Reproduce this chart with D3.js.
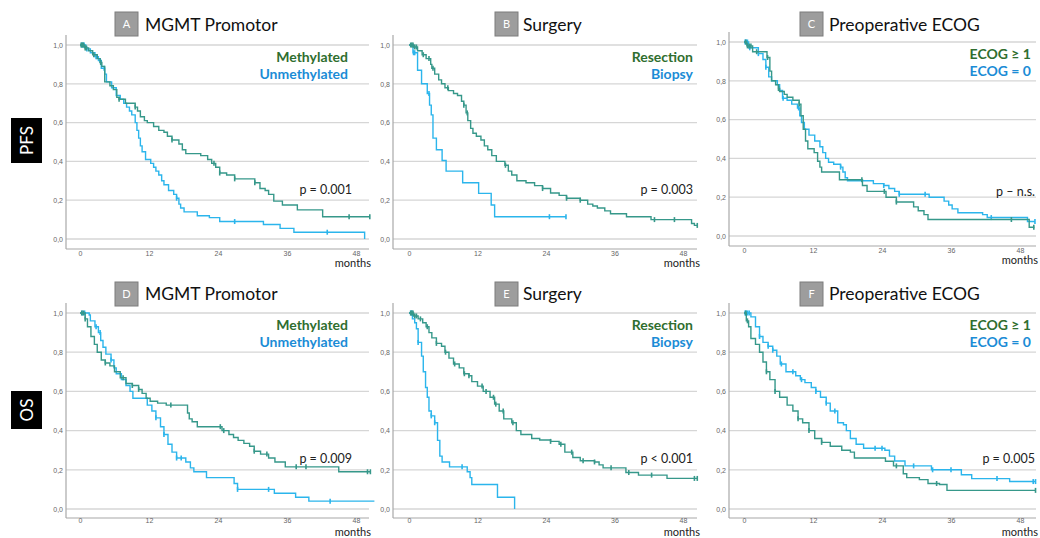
<!DOCTYPE html>
<html>
<head>
<meta charset="utf-8">
<script src="https://cdn.jsdelivr.net/npm/d3@7"></script>
<style>
  body { margin: 0; background: #fff; }
  svg { display: block; font-family: Lato, "Open Sans", sans-serif; }
  .tick text { fill: #666; font-size: 7px; }
</style>
</head>
<body>
<svg width="1040" height="538"></svg>
<script>
// axis ticks
const xTicks = [0, 12, 24, 36, 48];
const yTicks = [0, 0.2, 0.4, 0.6, 0.8, 1.0];

// panel texts
const panelLetters = ["A", "B", "C", "D", "E", "F"];
const panelTitles = ["MGMT Promotor", "Surgery", "Preoperative ECOG", "MGMT Promotor", "Surgery", "Preoperative ECOG"];
const legendGreen = ["Methylated", "Resection", "ECOG \u2265 1", "Methylated", "Resection", "ECOG \u2265 1"];
const legendBlue = ["Unmethylated", "Biopsy", "ECOG = 0", "Unmethylated", "Biopsy", "ECOG = 0"];
const pValues = ["p = 0.001", "p = 0.003", "p \u2013 n.s.", "p = 0.009", "p < 0.001", "p = 0.005"];
const rowLabels = ["PFS", "OS"];

// A: PFS by MGMT  [months, survival]
const pfsMethylated = [[0,1],[0.8,0.985],[1.5,0.97],[2.2,0.95],[3,0.93],[3.5,0.91],[3.8,0.89],[4.3,0.81],[5.2,0.79],[5.8,0.77],[6.4,0.73],[6.8,0.72],[7.9,0.70],[9.6,0.68],[10,0.66],[10.5,0.63],[11.2,0.61],[11.7,0.60],[12.8,0.58],[13.7,0.56],[14.6,0.55],[15.2,0.53],[16,0.51],[17.2,0.49],[17.8,0.46],[18.4,0.44],[21,0.43],[22.2,0.41],[22.9,0.39],[23.6,0.37],[24.3,0.34],[25.5,0.33],[26.9,0.31],[30.4,0.29],[31.3,0.26],[32.2,0.25],[32.8,0.23],[33.7,0.195],[35.2,0.175],[37.8,0.15],[42.2,0.115],[50.4,0.115]];
const pfsMethylatedCens = [0.2,0.4,0.6,0.9,1.1,2.4,3.6,6.8,9.6,16,23.3,24.3,26.9,30.4,46.8,50.4];
const pfsUnmethylated = [[0,1],[1,0.98],[1.8,0.96],[2.6,0.94],[3.2,0.92],[3.7,0.88],[4.3,0.85],[4.6,0.81],[5.5,0.78],[6.3,0.74],[7,0.72],[7.6,0.70],[8.1,0.68],[8.6,0.66],[9,0.64],[9.6,0.60],[9.9,0.56],[10.2,0.52],[10.5,0.48],[10.8,0.45],[11.4,0.41],[12.3,0.39],[12.8,0.37],[13.2,0.35],[13.7,0.33],[14.2,0.30],[14.6,0.28],[15.4,0.25],[16.3,0.23],[16.8,0.21],[17.2,0.18],[17.5,0.16],[18.1,0.14],[20.4,0.12],[22.5,0.11],[24.3,0.09],[31.9,0.075],[34.8,0.055],[37.2,0.035],[49.5,0.035],[49.5,0]];
const pfsUnmethylatedCens = [0.3,0.5,0.7,1.2,2.8,3.5,4.2,16.8,26.9,43];

// B: PFS by surgery
const pfsResection = [[0,1],[0.8,0.99],[1.5,0.97],[2.3,0.95],[3,0.93],[3.8,0.90],[4,0.88],[4.5,0.85],[5.2,0.82],[5.7,0.80],[6.3,0.78],[6.9,0.765],[7.8,0.75],[8.5,0.74],[9.2,0.71],[9.6,0.69],[10,0.65],[10.3,0.61],[10.8,0.57],[11.2,0.545],[11.8,0.53],[12.6,0.51],[13.2,0.48],[13.8,0.46],[14.5,0.43],[15.3,0.40],[16.8,0.38],[17.4,0.35],[18,0.33],[18.9,0.30],[20.5,0.29],[22,0.275],[23.4,0.26],[24.8,0.237],[26.3,0.225],[27.6,0.21],[30,0.20],[31.3,0.18],[32.2,0.17],[33,0.16],[34.3,0.145],[35.3,0.13],[38.1,0.115],[42.4,0.10],[49.5,0.08],[50,0.07],[50.5,0.07]];
const pfsResectionCens = [0.3,0.5,0.7,1,1.3,2.5,3.5,4.2,6.8,9.6,10.2,16.9,23.4,27.6,30,43,46.5,50.5];
const pfsBiopsy = [[0,1],[0.7,0.96],[1.5,0.87],[2.2,0.80],[3.2,0.75],[3.6,0.69],[3.9,0.64],[4.2,0.52],[4.8,0.46],[5.8,0.405],[6.5,0.35],[9.4,0.29],[12.2,0.235],[14.4,0.175],[15,0.115],[27.5,0.115]];
const pfsBiopsyCens = [0.8,1.0,3.5,24.6,27.5];

// C: PFS by ECOG
const pfsEcog1 = [[0,1],[0.5,0.98],[1.5,0.95],[4,0.92],[4.5,0.85],[4.8,0.80],[5.5,0.78],[6,0.76],[6.2,0.745],[7,0.73],[7.5,0.715],[8.5,0.70],[9.6,0.68],[9.9,0.62],[10.3,0.55],[10.7,0.49],[11.1,0.45],[12.2,0.43],[12.8,0.385],[13.2,0.355],[13.5,0.33],[16.6,0.29],[20.6,0.26],[21.4,0.23],[24.7,0.20],[26.5,0.175],[29.5,0.15],[30.3,0.13],[31.3,0.11],[32,0.085],[49.6,0.045],[50.5,0.045]];
const pfsEcog1Cens = [0.3,0.6,0.9,1.2,2.2,4.1,6,9.6,20.5,24.4,26.5,46.5,50.4];
const pfsEcog0 = [[0,1],[0.8,0.97],[2.5,0.94],[3.3,0.91],[3.8,0.87],[4.3,0.82],[4.8,0.80],[5.8,0.78],[6.2,0.75],[6.7,0.71],[7.5,0.70],[8.3,0.68],[9.3,0.66],[9.7,0.62],[10,0.585],[10.5,0.55],[11.3,0.52],[12.3,0.49],[13.2,0.46],[13.7,0.43],[14.2,0.40],[14.7,0.38],[15.6,0.37],[16.8,0.355],[17.2,0.33],[17.6,0.30],[18,0.285],[22.5,0.27],[24.3,0.26],[25.2,0.245],[26.2,0.23],[27,0.215],[32.2,0.20],[34.8,0.18],[35.6,0.16],[36.2,0.14],[37.2,0.12],[41.5,0.11],[42.3,0.095],[49.3,0.075],[50.6,0.075]];
const pfsEcog0Cens = [0.2,0.4,0.6,1,2.5,3.8,6.8,9.5,16.8,24.3,27,31.5,43,50.6];

// D: OS by MGMT
const osMethylated = [[0,1],[0.9,0.97],[1.3,0.93],[1.9,0.88],[2.5,0.84],[3,0.80],[3.7,0.76],[4.4,0.745],[5.2,0.73],[6,0.70],[7,0.67],[8,0.64],[9.1,0.63],[10.2,0.61],[10.8,0.59],[11.5,0.565],[12.2,0.55],[13.5,0.54],[15,0.53],[18.7,0.49],[19,0.46],[19.5,0.445],[20.4,0.42],[24.7,0.40],[25.9,0.38],[26.7,0.365],[27.5,0.35],[28.5,0.335],[29.5,0.32],[30.3,0.295],[31.4,0.28],[32.8,0.26],[33.9,0.24],[35.7,0.215],[45,0.19],[50.5,0.19]];
const osMethylatedCens = [0.3,0.6,0.9,4.4,7.5,9.1,10.2,15.8,24.4,25,30.3,32.5,37.6,39.3,50,50.5];
const osUnmethylated = [[0,1],[1.6,0.99],[1.8,0.96],[2.6,0.93],[3.2,0.90],[3.6,0.86],[4,0.825],[4.5,0.79],[5.4,0.76],[5.9,0.72],[6.3,0.69],[7.2,0.66],[8,0.63],[8.7,0.60],[9.2,0.565],[11.7,0.53],[12.5,0.50],[13.2,0.465],[14,0.42],[14.6,0.38],[15.3,0.33],[16,0.29],[16.8,0.26],[18.4,0.24],[19.2,0.21],[19.8,0.19],[22,0.16],[26.8,0.13],[27.4,0.10],[33.8,0.08],[37.5,0.06],[39.8,0.04],[51.2,0.04]];
const osUnmethylatedCens = [0.4,0.8,2.8,3.5,5.4,13.2,14.6,16.8,17.6,27.4,32.8,43.5];

// E: OS by surgery
const osResection = [[0,1],[0.8,0.985],[1.6,0.97],[2.4,0.95],[3,0.93],[3.5,0.90],[4,0.873],[4.8,0.845],[5.7,0.83],[6.3,0.80],[7,0.77],[7.8,0.74],[8.8,0.72],[9.6,0.69],[10.5,0.68],[11,0.65],[12,0.627],[13,0.60],[14.2,0.57],[15,0.535],[15.8,0.50],[16.6,0.46],[18,0.44],[18.8,0.40],[19.6,0.38],[21.5,0.36],[22.9,0.352],[24.8,0.345],[26.3,0.33],[27.3,0.29],[28.7,0.263],[30,0.246],[32.5,0.24],[33.3,0.225],[34,0.21],[38,0.186],[40.2,0.173],[45.2,0.156],[50.5,0.156]];
const osResectionCens = [0.3,0.5,0.7,1,1.3,2,3.2,4.8,6.4,8,9.7,10.5,12.8,13.5,14.8,15.2,16.5,18.2,24.8,26.6,28.5,30.5,32.5,35.4,38.5,42.5,50,50.5];
const osBiopsy = [[0,1],[0.6,0.97],[1,0.95],[1.3,0.92],[1.6,0.85],[2.2,0.78],[2.5,0.70],[2.9,0.62],[3.2,0.57],[3.5,0.50],[3.9,0.475],[4.5,0.44],[5,0.35],[5.4,0.27],[5.8,0.24],[7.1,0.215],[10.2,0.19],[10.7,0.16],[11,0.125],[15.5,0.06],[18.5,0]];
const osBiopsyCens = [0.3,0.5,1.6,3.9,4.5,9.3];

// F: OS by ECOG
const osEcog1 = [[0,1],[0.4,0.96],[0.8,0.93],[1.2,0.87],[2,0.84],[2.7,0.80],[3.3,0.75],[3.9,0.70],[4.5,0.66],[5.4,0.60],[6.2,0.57],[7.5,0.53],[8.5,0.50],[9.4,0.46],[10.2,0.44],[11.3,0.40],[12.3,0.36],[13.5,0.34],[15,0.32],[17,0.30],[18.5,0.29],[19.2,0.26],[24.6,0.244],[26,0.22],[27.7,0.18],[28.3,0.16],[30.5,0.15],[32,0.13],[34,0.125],[35.3,0.095],[50.7,0.095]];
const osEcog1Cens = [0.3,0.6,3.9,5.4,9.4,11.3,13.5,26.5,33.5,50.7];
const osEcog0 = [[0,1],[1.2,0.98],[2,0.93],[2.7,0.88],[3.3,0.85],[4.2,0.83],[5,0.81],[5.7,0.78],[6.3,0.74],[7.3,0.70],[9,0.68],[9.8,0.66],[10.6,0.645],[11.7,0.62],[12.5,0.60],[13.3,0.57],[14.3,0.54],[15,0.50],[16.3,0.44],[17.3,0.43],[17.8,0.40],[18.5,0.36],[19.5,0.33],[20.8,0.31],[24.5,0.30],[25.3,0.27],[26.2,0.245],[28,0.22],[32.6,0.20],[37.8,0.175],[39.6,0.155],[46.2,0.14],[50.7,0.14]];
const osEcog0Cens = [0.2,0.4,0.6,0.9,2.7,4.2,5,6.5,8.5,10,12.5,14.3,15.8,22.8,24,29.5,32.8,36,44,50.3,50.7];

const greenCurves = [pfsMethylated, pfsResection, pfsEcog1, osMethylated, osResection, osEcog1];
const greenCens = [pfsMethylatedCens, pfsResectionCens, pfsEcog1Cens, osMethylatedCens, osResectionCens, osEcog1Cens];
const blueCurves = [pfsUnmethylated, pfsBiopsy, pfsEcog0, osUnmethylated, osBiopsy, osEcog0];
const blueCens = [pfsUnmethylatedCens, pfsBiopsyCens, pfsEcog0Cens, osUnmethylatedCens, osBiopsyCens, osEcog0Cens];

// layout
const cols = [
  {axisX: 66, x0: 80, x48: 356, right: 369, box: 115, title: 145, legend: 348, p: 352, months: 371},
  {axisX: 393, x0: 409, x48: 683, right: 697, box: 495, title: 523, legend: 693, p: 693, months: 700},
  {axisX: 729, x0: 744, x48: 1020, right: 1036, box: 800, title: 829, legend: 1031, p: 1035, months: 1038}
];
const rows = [
  {y1: 45, y0: 239, top: 35, bottom: 249, boxY: 12, titleY: 31, pY: 194, monthsY: 267, tickPad: 2, label: [11, 118, 31, 45]},
  {y1: 313, y0: 509, top: 303, bottom: 518, boxY: 282, titleY: 300, pY: 463, monthsY: 535.5, tickPad: 0, label: [11, 391, 31, 38]}
];

const greenLine = "#36988a", blueLine = "#2bb5ec";
const greenText = "#2f6e2f", blueText = "#1b8cd6";

const svg = d3.select("svg");

// row labels
rows.forEach((r, i) => {
  const [lx, ly, lw, lh] = r.label;
  svg.append("rect").attr("x", lx).attr("y", ly).attr("width", lw).attr("height", lh).attr("fill", "#000");
  svg.append("text")
    .attr("transform", `translate(${lx + lw / 2 + 6},${ly + lh / 2}) rotate(-90)`)
    .attr("text-anchor", "middle")
    .attr("fill", "#fff")
    .style("font-size", "17px")
    .text(rowLabels[i]);
});

function stepValue(curve, t) {
  const i = d3.bisectRight(curve.map(d => d[0]), t) - 1;
  return curve[Math.max(0, i)][1];
}

panelLetters.forEach((letter, i) => {
  const c = cols[i % 3], r = rows[Math.floor(i / 3)];
  const dy = i === 2 ? -3 : 0;   // panel C plot sits a little higher
  const g = svg.append("g").attr("transform", `translate(0,${dy})`);

  const x = d3.scaleLinear().domain([0, 48]).range([c.x0, c.x48]);
  const y = d3.scaleLinear().domain([0, 1]).range([r.y0, r.y1]);

  // gridlines
  g.selectAll(".grid").data(yTicks).enter().append("line")
    .attr("x1", c.axisX).attr("x2", c.right)
    .attr("y1", d => y(d)).attr("y2", d => y(d))
    .attr("stroke", "#d6d6d6").attr("stroke-width", 1.3);

  // axes lines
  g.append("line").attr("x1", c.axisX).attr("x2", c.axisX).attr("y1", r.top).attr("y2", r.bottom)
    .attr("stroke", "#a8a8a8").attr("stroke-width", 1.2);
  g.append("line").attr("x1", c.axisX).attr("x2", c.right).attr("y1", r.bottom).attr("y2", r.bottom)
    .attr("stroke", "#a8a8a8").attr("stroke-width", 1.2);

  const yAxis = g.append("g").attr("transform", `translate(${c.axisX},0)`)
    .call(d3.axisLeft(y).tickValues(yTicks).tickSize(0).tickPadding(3)
      .tickFormat(d => d.toFixed(1).replace(".", ",")));
  yAxis.select(".domain").remove();

  const xAxis = g.append("g").attr("transform", `translate(0,${r.bottom})`)
    .call(d3.axisBottom(x).tickValues(xTicks).tickSize(0).tickPadding(r.tickPad));
  xAxis.select(".domain").remove();

  g.append("text").attr("x", c.months).attr("y", r.monthsY).attr("text-anchor", "end")
    .attr("fill", "#222").style("font-size", "11px").text("months");

  // curves
  const line = d3.line().x(d => x(d[0])).y(d => y(d[1])).curve(d3.curveStepAfter);
  [[blueCurves[i], blueCens[i], blueLine], [greenCurves[i], greenCens[i], greenLine]].forEach(([curve, cens, col]) => {
    g.append("path").datum(curve).attr("d", line)
      .attr("fill", "none").attr("stroke", col).attr("stroke-width", 1.4);
    g.selectAll(null).data(cens).enter().append("line")
      .attr("x1", d => x(d)).attr("x2", d => x(d))
      .attr("y1", d => y(stepValue(curve, d)) - 2.5).attr("y2", d => y(stepValue(curve, d)) + 2.5)
      .attr("stroke", col).attr("stroke-width", 1.6);
  });

  // legend
  g.append("text").attr("x", c.legend).attr("y", r.y1 + 17).attr("text-anchor", "end")
    .attr("fill", greenText).style("font-size", "14px").style("font-weight", "bold").text(legendGreen[i]);
  g.append("text").attr("x", c.legend).attr("y", r.y1 + 34).attr("text-anchor", "end")
    .attr("fill", blueText).style("font-size", "14px").style("font-weight", "bold").text(legendBlue[i]);

  // title
  svg.append("rect").attr("x", c.box).attr("y", r.boxY).attr("width", 23).attr("height", 24)
    .attr("fill", "#9d9d9d").attr("stroke", "#7d7d7d").attr("stroke-width", 1);
  svg.append("text").attr("x", c.box + 11.5).attr("y", r.boxY + 16).attr("text-anchor", "middle")
    .attr("fill", "#fff").style("font-size", "11px").text(letter);
  svg.append("text").attr("x", c.title).attr("y", r.titleY)
    .attr("fill", "#111").style("font-size", "17.5px").text(panelTitles[i]);

  // p value
  svg.append("text").attr("x", c.p).attr("y", r.pY + (i === 2 ? 2 : 0)).attr("text-anchor", "end")
    .attr("fill", "#222").style("font-size", "12.5px").text(pValues[i]);
});
</script>
</body>
</html>
